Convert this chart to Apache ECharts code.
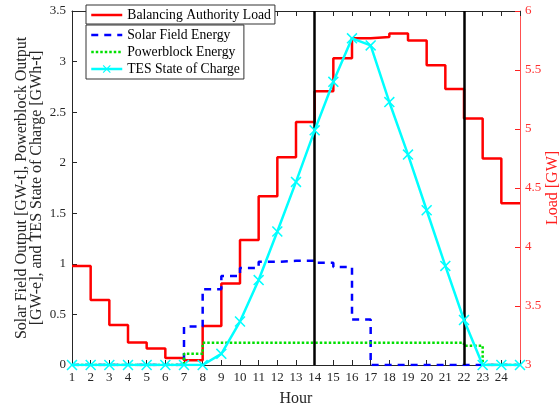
<!DOCTYPE html>
<html>
<head>
<meta charset="utf-8">
<script src="https://cdn.jsdelivr.net/npm/echarts@6/dist/echarts.min.js"></script>
<style>
html,body{margin:0;padding:0;background:#fff;}
#chart{width:559px;height:409px;}
</style>
</head>
<body>
<div id="chart"></div>
<script>
// hourly values, last entry repeated at hour 25 so the stairs close
var hours = [1,2,3,4,5,6,7,8,9,10,11,12,13,14,15,16,17,18,19,20,21,22,23,24,25];
var load_gw = [3.84,3.55,3.34,3.19,3.14,3.06,3.04,3.33,3.69,4.06,4.43,4.76,5.06,5.32,5.60,5.77,5.78,5.81,5.75,5.54,5.34,5.09,4.75,4.37,4.37];
var solar_field = [0,0,0,0,0,0,0.38,0.75,0.88,0.96,1.02,1.03,1.03,1.01,0.97,0.45,0,0,0,0,0,0,0,0,0];
var powerblock = [0,0,0,0,0,0,0.11,0.22,0.22,0.22,0.22,0.22,0.22,0.22,0.22,0.22,0.22,0.22,0.22,0.22,0.22,0.19,0,0,0];
var tes_soc = [0,0,0,0,0,0,0,0,0.11,0.43,0.84,1.32,1.81,2.32,2.80,3.23,3.16,2.60,2.08,1.53,0.98,0.445,0,0,0];
var vlines = [14,22];

var font = 'Liberation Serif';
var myChart = echarts.init(document.getElementById('chart'));

function pairs(vals){
	let out = [];
	for (let i=0;i<hours.length;i++){
		out.push([hours[i], vals[i]]);
	}
	return out;
}

var xcross = 'path://M0,1L1,0L5,4L9,0L10,1L6,5L10,9L9,10L5,6L1,10L0,9L4,5Z';
var noDot = {opacity: 0};

var option = {
	animation: false,
	grid: {left:72, right:39, top:11, bottom:44, outerBoundsMode: 'none', containLabel: false},
	legend: [
		{
			data: [{name: 'Balancing Authority Load', itemStyle: noDot}],
			left: 86, top: 5,
			orient: 'vertical',
			backgroundColor: '#fff',
			borderColor: '#333', borderWidth: 1, borderRadius: 0,
			padding: [3,4,2,4],
			itemWidth: 31, itemHeight: 10,
			lineStyle: {width: 2.5},
			textStyle: {fontFamily: font, fontSize: 13.7, color: '#000'}
		},
		{
			data: [
				{name: 'Solar Field Energy', itemStyle: noDot},
				{name: 'Powerblock Energy', itemStyle: noDot},
				'TES State of Charge'
			],
			left: 86, top: 25,
			orient: 'vertical',
			backgroundColor: '#fff',
			borderColor: '#333', borderWidth: 1, borderRadius: 0,
			padding: [3,4,3,4],
			itemGap: 3,
			itemWidth: 31, itemHeight: 10,
			lineStyle: {width: 2.5},
			textStyle: {fontFamily: font, fontSize: 13.7, color: '#000'}
		}
	],
	xAxis: [
		{
			type: 'value', min: 1, max: 25, interval: 1,
			name: 'Hour', nameLocation: 'middle', nameGap: 26, nameMoveOverlap: false,
			nameTextStyle: {fontFamily: font, fontSize: 16, color: '#262626'},
			axisLine: {lineStyle: {color: '#262626', width: 1}},
			axisTick: {inside: true, length: 5, lineStyle: {color: '#262626'}},
			axisLabel: {
				fontFamily: font, fontSize: 13, color: '#262626', margin: 6,
				formatter: function(v){ return v===25 ? '' : v; }
			},
			splitLine: {show: false}
		},
		{
			type: 'value', min: 1, max: 25, interval: 1, position: 'top',
			axisLine: {lineStyle: {color: '#262626', width: 1}},
			axisTick: {inside: true, length: 5, lineStyle: {color: '#262626'}},
			axisLabel: {show: false},
			splitLine: {show: false}
		}
	],
	yAxis: [
		{
			type: 'value', min: 0, max: 3.5, interval: 0.5, position: 'left',
			name: 'Solar Field Output [GW-t], Powerblock Output\n[GW-e], and TES State of Charge [GWh-t]',
			nameLocation: 'middle', nameGap: 28, nameMoveOverlap: false,
			nameTextStyle: {fontFamily: font, fontSize: 16, color: '#262626', lineHeight: 15},
			axisLine: {show: true, lineStyle: {color: '#262626', width: 1}},
			axisTick: {show: true, inside: true, length: 5, lineStyle: {color: '#262626'}},
			axisLabel: {fontFamily: font, fontSize: 13, color: '#262626', margin: 6},
			splitLine: {show: false}
		},
		{
			type: 'value', min: 3, max: 6, interval: 0.5, position: 'right',
			name: 'Load [GW]',
			nameLocation: 'middle', nameGap: 25, nameRotate: 90, nameMoveOverlap: false,
			nameTextStyle: {fontFamily: font, fontSize: 16, color: '#ff2020'},
			axisLine: {show: true, lineStyle: {color: '#ff5050', width: 1}},
			axisTick: {show: true, inside: true, length: 5, lineStyle: {color: '#ff2020'}},
			axisLabel: {fontFamily: font, fontSize: 13, color: '#ff3030', margin: 5},
			splitLine: {show: false}
		}
	],
	series: [
		{
			name: 'Balancing Authority Load',
			type: 'line', step: 'end', yAxisIndex: 1,
			data: pairs(load_gw),
			symbol: 'none',
			color: '#ff0000',
			lineStyle: {color: '#ff0000', width: 2.5},
			z: 3
		},
		{
			name: 'Solar Field Energy',
			type: 'line', step: 'end',
			data: pairs(solar_field),
			symbol: 'none',
			color: '#0000ff',
			lineStyle: {color: '#0000ff', width: 2.5, type: [7,6]},
			z: 4
		},
		{
			name: 'Powerblock Energy',
			type: 'line', step: 'end',
			data: pairs(powerblock),
			symbol: 'none',
			color: '#00e000',
			lineStyle: {color: '#00e000', width: 2.5, type: [2.5,2]},
			z: 4,
			markLine: {
				silent: true,
				symbol: 'none',
				label: {show: false},
				lineStyle: {color: '#000', width: 2.5, type: 'solid'},
				data: vlines.map(function(h){ return {xAxis: h}; })
			}
		},
		{
			name: 'TES State of Charge',
			type: 'line',
			data: pairs(tes_soc),
			symbol: xcross, symbolSize: 11,
			showAllSymbol: true,
			color: '#00ffff',
			itemStyle: {color: '#00ffff'},
			lineStyle: {color: '#00ffff', width: 2.5},
			z: 5
		}
	]
};

myChart.setOption(option);
</script>
</body>
</html>
